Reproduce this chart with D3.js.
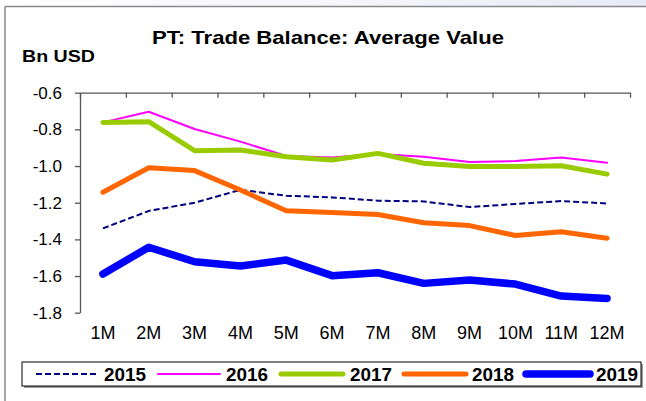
<!DOCTYPE html>
<html>
<head>
<meta charset="utf-8">
<script src="https://cdn.jsdelivr.net/npm/d3@7/dist/d3.min.js"></script>
<style>
  html, body { margin: 0; padding: 0; background: #ffffff; }
  svg { display: block; font-family: "Liberation Sans", Arial, sans-serif; }
</style>
</head>
<body>
<svg id="chart" width="646" height="401"></svg>
<script>
// Monthly averages of the trade balance, Bn USD
const months = ["1M","2M","3M","4M","5M","6M","7M","8M","9M","10M","11M","12M"];
const y2015 = [-1.34,-1.245,-1.20,-1.13,-1.162,-1.171,-1.189,-1.193,-1.224,-1.207,-1.191,-1.204];
const y2016 = [-0.762,-0.704,-0.798,-0.867,-0.945,-0.953,-0.934,-0.949,-0.978,-0.973,-0.953,-0.982];
const y2017 = [-0.762,-0.758,-0.916,-0.913,-0.949,-0.967,-0.931,-0.985,-1.003,-1.003,-0.998,-1.044];
const y2018 = [-1.143,-1.009,-1.025,-1.131,-1.244,-1.253,-1.264,-1.309,-1.325,-1.379,-1.358,-1.394];
const y2019 = [-1.589,-1.443,-1.522,-1.545,-1.513,-1.598,-1.582,-1.640,-1.622,-1.644,-1.709,-1.722];
const yTicks = [-1.8,-1.6,-1.4,-1.2,-1.0,-0.8,-0.6];

const seriesNames = ["2015","2016","2017","2018","2019"];
const seriesValues = [y2015, y2016, y2017, y2018, y2019];
const styles = {
  "2015": { color: "#000080", width: 2,   dash: "6,3" },
  "2016": { color: "#ff00ff", width: 2,   dash: null },
  "2017": { color: "#99cc00", width: 5,   dash: null },
  "2018": { color: "#ff6600", width: 5,   dash: null },
  "2019": { color: "#0000ff", width: 7.5, dash: null }
};

const svg = d3.select("#chart");

// frame: pale band along the top and the grey edge lines
const defs = svg.append("defs");
const grad = defs.append("linearGradient").attr("id", "topband").attr("x1", "0").attr("x2", "1");
grad.append("stop").attr("offset", "0").attr("stop-color", "#ffffff");
grad.append("stop").attr("offset", "0.6").attr("stop-color", "#f4f4fa");
grad.append("stop").attr("offset", "1").attr("stop-color", "#e8eaf6");
svg.append("rect").attr("x", 0).attr("y", 0).attr("width", 646).attr("height", 6).attr("fill", "url(#topband)");
svg.append("line").attr("x1", 5).attr("x2", 646).attr("y1", 6.5).attr("y2", 6.5)
  .attr("stroke", "#8a8a8a").attr("stroke-width", 1.5);
svg.append("line").attr("x1", 5).attr("x2", 5).attr("y1", 6.5).attr("y2", 401)
  .attr("stroke", "#8a8a8a").attr("stroke-width", 1.5);

// title and unit
svg.append("text").attr("x", 328).attr("y", 44).attr("text-anchor", "middle")
  .attr("font-weight", "bold").attr("font-size", 19)
  .attr("textLength", 352).attr("lengthAdjust", "spacingAndGlyphs")
  .text("PT: Trade Balance: Average Value");
svg.append("text").attr("x", 22).attr("y", 62)
  .attr("font-weight", "bold").attr("font-size", 17)
  .attr("textLength", 73).attr("lengthAdjust", "spacingAndGlyphs")
  .text("Bn USD");

// scales
const x = d3.scaleBand().domain(months).range([80, 630]);
const y = d3.scaleLinear().domain([-1.8, -0.6]).range([312.7, 92.7]);
const cx = m => x(m) + x.bandwidth() / 2;

// top category axis with downward ticks at band edges
const edge = d3.scaleLinear().domain([0, months.length]).range(x.range());
const topAxis = svg.append("g").attr("transform", `translate(0,${y(-0.6)})`)
  .call(d3.axisBottom(edge).tickValues(d3.range(months.length + 1)).tickSize(5)
    .tickSizeOuter(0).tickFormat(""));
topAxis.selectAll("path,line").attr("stroke", "#555").attr("stroke-width", 1.3);

// value axis
const leftAxis = svg.append("g").attr("transform", "translate(80,0)")
  .call(d3.axisLeft(y).tickValues(yTicks).tickSize(5).tickSizeOuter(0).tickPadding(13)
    .tickFormat(d => d.toFixed(1)));
leftAxis.selectAll("path,line").attr("stroke", "#555").attr("stroke-width", 1.3);
leftAxis.selectAll("text").attr("font-size", 17).attr("fill", "#000")
  .attr("font-family", "'Liberation Sans', Arial, sans-serif");

// month labels below the plot
svg.append("g").selectAll("text").data(months).join("text")
  .attr("x", d => cx(d)).attr("y", 339).attr("text-anchor", "middle")
  .attr("font-size", 18).attr("fill", "#000").text(d => d);

// series lines
const line = d3.line().x((d, i) => cx(months[i])).y(d => y(d));
seriesNames.forEach((name, k) => {
  const s = styles[name];
  svg.append("path").datum(seriesValues[k])
    .attr("d", line).attr("fill", "none")
    .attr("stroke", s.color).attr("stroke-width", s.width)
    .attr("stroke-linejoin", "round")
    .attr("stroke-linecap", s.dash ? "butt" : "round")
    .attr("stroke-dasharray", s.dash);
});

// legend box with shadow
const lg = svg.append("g");
lg.append("rect").attr("x", 24).attr("y", 364).attr("width", 619).attr("height", 24).attr("fill", "#9a9a9a");
lg.append("rect").attr("x", 22).attr("y", 362).attr("width", 619).attr("height", 24)
  .attr("fill", "#fff").attr("stroke", "#000").attr("stroke-width", 1);
const legendLine = [[36, 97], [158, 220], [281, 343], [404, 466], [526, 590]];
const legendText = [104, 226, 350, 472, 596];
seriesNames.forEach((name, k) => {
  const s = styles[name];
  lg.append("line").attr("x1", legendLine[k][0]).attr("x2", legendLine[k][1])
    .attr("y1", 374).attr("y2", 374)
    .attr("stroke", s.color).attr("stroke-width", s.width)
    .attr("stroke-linecap", s.dash ? "butt" : "round")
    .attr("stroke-dasharray", s.dash);
  lg.append("text").attr("x", legendText[k]).attr("y", 381)
    .attr("font-weight", "bold").attr("font-size", 18)
    .attr("textLength", 42).attr("lengthAdjust", "spacingAndGlyphs")
    .text(name);
});
</script>
</body>
</html>
